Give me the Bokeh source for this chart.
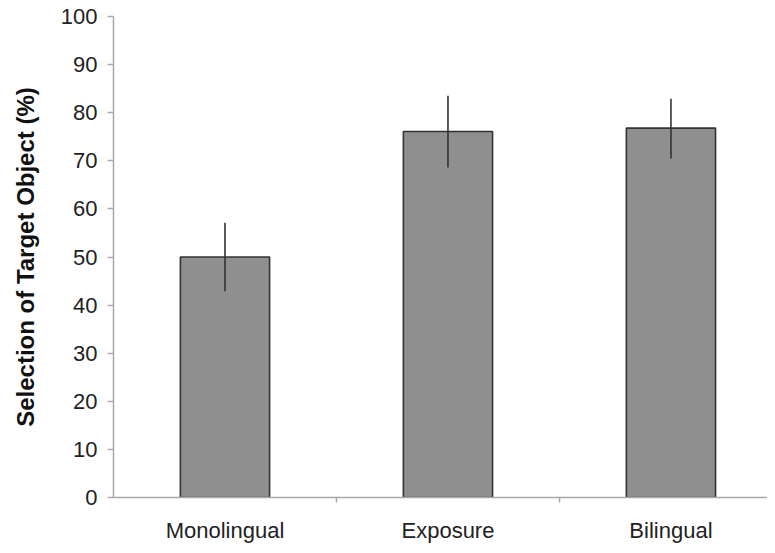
from bokeh.plotting import figure
from bokeh.models import Range1d, FixedTicker, ColumnDataSource
from bokeh.embed import file_html
from bokeh.resources import INLINE

categories = ["Monolingual", "Exposure", "Bilingual"]
means = [50.0, 76.1, 76.8]
err_low = [42.9, 68.6, 70.5]
err_high = [57.1, 83.5, 82.9]
y_ticks = [0, 10, 20, 30, 40, 50, 60, 70, 80, 90, 100]

xs = [i + 0.5 for i in range(len(categories))]
src = ColumnDataSource(dict(x=xs, top=means, lo=err_low, hi=err_high, cat=categories))

p = figure(width=767, height=545, output_backend="svg", toolbar_location=None,
           x_range=Range1d(0, 2.933), y_range=Range1d(0, 100),
           min_border_left=113, min_border_right=0, min_border_top=16, min_border_bottom=43)
p.outline_line_color = None
p.xgrid.visible = False
p.ygrid.visible = False
p.background_fill_color = "white"
p.border_fill_color = "white"

p.vbar(x="x", top="top", bottom=0, width=0.40, source=src,
       fill_color="#8f8f8f", line_color="#333333", line_width=1.6)
p.segment(x0="x", x1="x", y0="lo", y1="hi", source=src,
          line_color="#333333", line_width=1.6)

font = "Liberation Sans"
axis_col = "#a9a9a9"

xa = p.xaxis[0]
xa.ticker = FixedTicker(ticks=xs, minor_ticks=[1, 2])
xa.major_label_overrides = {x: c for x, c in zip(xs, categories)}
xa.major_tick_line_color = None
xa.major_tick_out = 0
xa.minor_tick_out = 5
xa.minor_tick_in = 0
xa.minor_tick_line_color = axis_col
xa.minor_tick_line_width = 1.5
xa.axis_line_color = axis_col
xa.axis_line_width = 1.5
xa.major_label_text_font = font
xa.major_label_text_font_size = "22px"
xa.major_label_text_color = "#222222"
xa.major_label_standoff = 15

ya = p.yaxis[0]
ya.ticker = FixedTicker(ticks=y_ticks, minor_ticks=[])
ya.major_tick_out = 6
ya.major_tick_in = 0
ya.major_tick_line_color = axis_col
ya.major_tick_line_width = 1.5
ya.minor_tick_line_color = None
ya.axis_line_color = axis_col
ya.axis_line_width = 1.5
ya.major_label_text_font = font
ya.major_label_text_font_size = "22px"
ya.major_label_text_color = "#222222"
ya.major_label_standoff = 10
ya.axis_label = "Selection of Target Object (%)"
ya.axis_label_text_font = font
ya.axis_label_text_font_style = "bold"
ya.axis_label_text_font_size = "24px"
ya.axis_label_text_color = "#111111"
ya.axis_label_standoff = 19

open("out.html", "w").write(file_html(p, INLINE))
